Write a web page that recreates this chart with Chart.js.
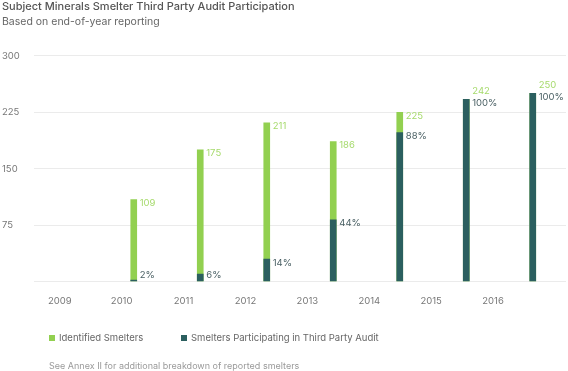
<!DOCTYPE html>
<html>
<head>
<meta charset="utf-8">
<script src="https://cdn.jsdelivr.net/npm/chart.js@4"></script>
<style>
  body { margin: 0; background: #fff; font-family: "Inter", sans-serif; }
  #wrap { position: relative; width: 568px; height: 371px; }
  .legend { position: absolute; top: 332px; left: 0; font-size: 9.5px; color: #666; }
  .legend span.item { position: absolute; white-space: nowrap; }
  .legend i { display: inline-block; width: 6px; height: 6px; margin-right: 4px; vertical-align: 0px; }
  #note { position: absolute; top: 360px; left: 49px; font-size: 9px; color: #9a9a9a; white-space: nowrap; }
</style>
</head>
<body>
<div id="wrap">
  <canvas id="chart" width="568" height="371"></canvas>
  <div class="legend">
    <span class="item" style="left:49px"><i style="background:#92d050"></i>Identified Smelters</span>
    <span class="item" style="left:181px"><i style="background:#2b5f5f"></i>Smelters Participating in Third Party Audit</span>
  </div>
  <div id="note">See Annex II for additional breakdown of reported smelters</div>
</div>
<script>
const years = ["2009", "2010", "2011", "2012", "2013", "2014", "2015", "2016"];
const identified = [null, 109, 175, 211, 186, 225, 242, 250];
const participating = [null, 2, 10, 30, 82, 198, 242, 250];
const participatingPct = [null, 2, 6, 14, 44, 88, 100, 100];
const yTicks = [0, 75, 150, 225, 300];

const green = "#92d050";
const dark = "#2b5f5f";

// value labels to the right of each bar
const barLabels = {
  id: "barLabels",
  afterDatasetsDraw(chart) {
    const ctx = chart.ctx;
    const greenMeta = chart.getDatasetMeta(0);
    const darkMeta = chart.getDatasetMeta(1);
    ctx.save();
    ctx.font = "9.5px Inter, sans-serif";
    ctx.textBaseline = "top";
    ctx.textAlign = "left";
    years.forEach((y, i) => {
      if (identified[i] == null) return;
      const g = greenMeta.data[i];
      const d = darkMeta.data[i];
      const x = g.x + g.width / 2 + 3;
      let darkY = Math.min(d.y - 1, d.base - 11);
      let greenY = g.y - 1;
      if (greenY > darkY - 12) greenY = darkY - 12;
      ctx.fillStyle = "#a6da6c";
      ctx.fillText(String(identified[i]), x, greenY);
      ctx.fillStyle = "#4a6064";
      ctx.fillText(participatingPct[i] + "%", x, darkY);
    });
    ctx.restore();
  }
};

new Chart(document.getElementById("chart"), {
  type: "bar",
  data: {
    labels: years,
    datasets: [
      {
        label: "Identified Smelters",
        data: identified,
        backgroundColor: green,
        barThickness: 6,
        grouped: false,
        order: 1
      },
      {
        label: "Smelters Participating in Third Party Audit",
        data: participating,
        backgroundColor: dark,
        barThickness: 6,
        grouped: false,
        order: 0
      }
    ]
  },
  options: {
    responsive: false,
    animation: false,
    layout: { padding: { left: 2, right: 2, top: 0, bottom: 50 } },
    plugins: {
      legend: { display: false },
      tooltip: { enabled: false },
      title: {
        display: true,
        text: "Subject Minerals Smelter Third Party Audit Participation",
        align: "start",
        color: "#555",
        font: { family: "Inter", size: 11, weight: "500" },
        padding: { top: 0, bottom: 2 }
      },
      subtitle: {
        display: true,
        text: "Based on end-of-year reporting",
        align: "start",
        color: "#666",
        font: { family: "Inter", size: 10.5, weight: "normal" },
        padding: { top: 0, bottom: 28 }
      }
    },
    scales: {
      x: { display: false },
      years: {
        type: "linear",
        position: "bottom",
        offset: false,
        min: -0.416,
        max: 8.178,
        afterBuildTicks: (scale) => { scale.ticks = years.map((y, i) => ({ value: i })); },
        grid: { display: false, drawTicks: false, offset: false },
        border: { display: false },
        ticks: {
          padding: 14,
          color: "#777",
          font: { family: "Inter", size: 9.5 },
          callback: (v) => years[v]
        }
      },
      y: {
        min: 0,
        max: 300,
        afterBuildTicks: (scale) => { scale.ticks = yTicks.map((v) => ({ value: v })); },
        afterFit: (scale) => { scale.width = 32; },
        grid: { color: "#ebebeb", drawTicks: false },
        border: { display: false },
        ticks: {
          crossAlign: "far",
          color: "#777",
          font: { family: "Inter", size: 9.5 },
          callback: (v) => (v === 0 ? "" : v)
        }
      }
    }
  },
  plugins: [barLabels]
});
</script>
</body>
</html>
